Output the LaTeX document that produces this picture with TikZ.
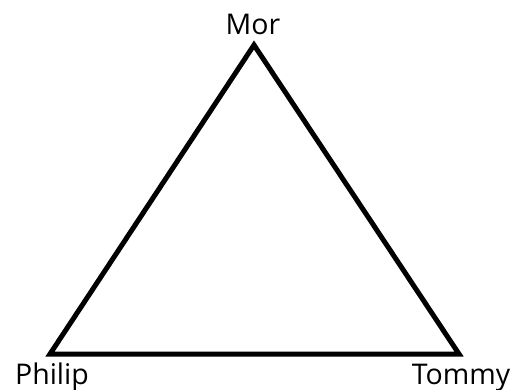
\documentclass[tikz,border=0pt]{standalone}
\usepackage{fontspec}
\setmainfont{Open Sans}
\tikzset{
  tri edge/.style={draw=black, line width=5pt},
  tri label/.style={font=\fontsize{28.5}{32}\selectfont, text=black, inner sep=0pt, anchor=base},
}

\begin{document}
\begin{tikzpicture}[x=1pt, y=-1pt]
  \useasboundingbox (0,0) rectangle (514,390);

  % corners of the triangle
  \coordinate (top) at (254,45);
  \coordinate (left) at (50,354);
  \coordinate (right) at (459,354);

  % the three sides
  \draw[tri edge] (top) -- (right) -- (left) -- cycle;

  % names at the corners
  \node[tri label] (mor) at (253,35) {Mor};
  \node[tri label] (philip) at (52,384) {Philip};
  \node[tri label] (tommy) at (461,384) {Tommy};
\end{tikzpicture}
\end{document}
